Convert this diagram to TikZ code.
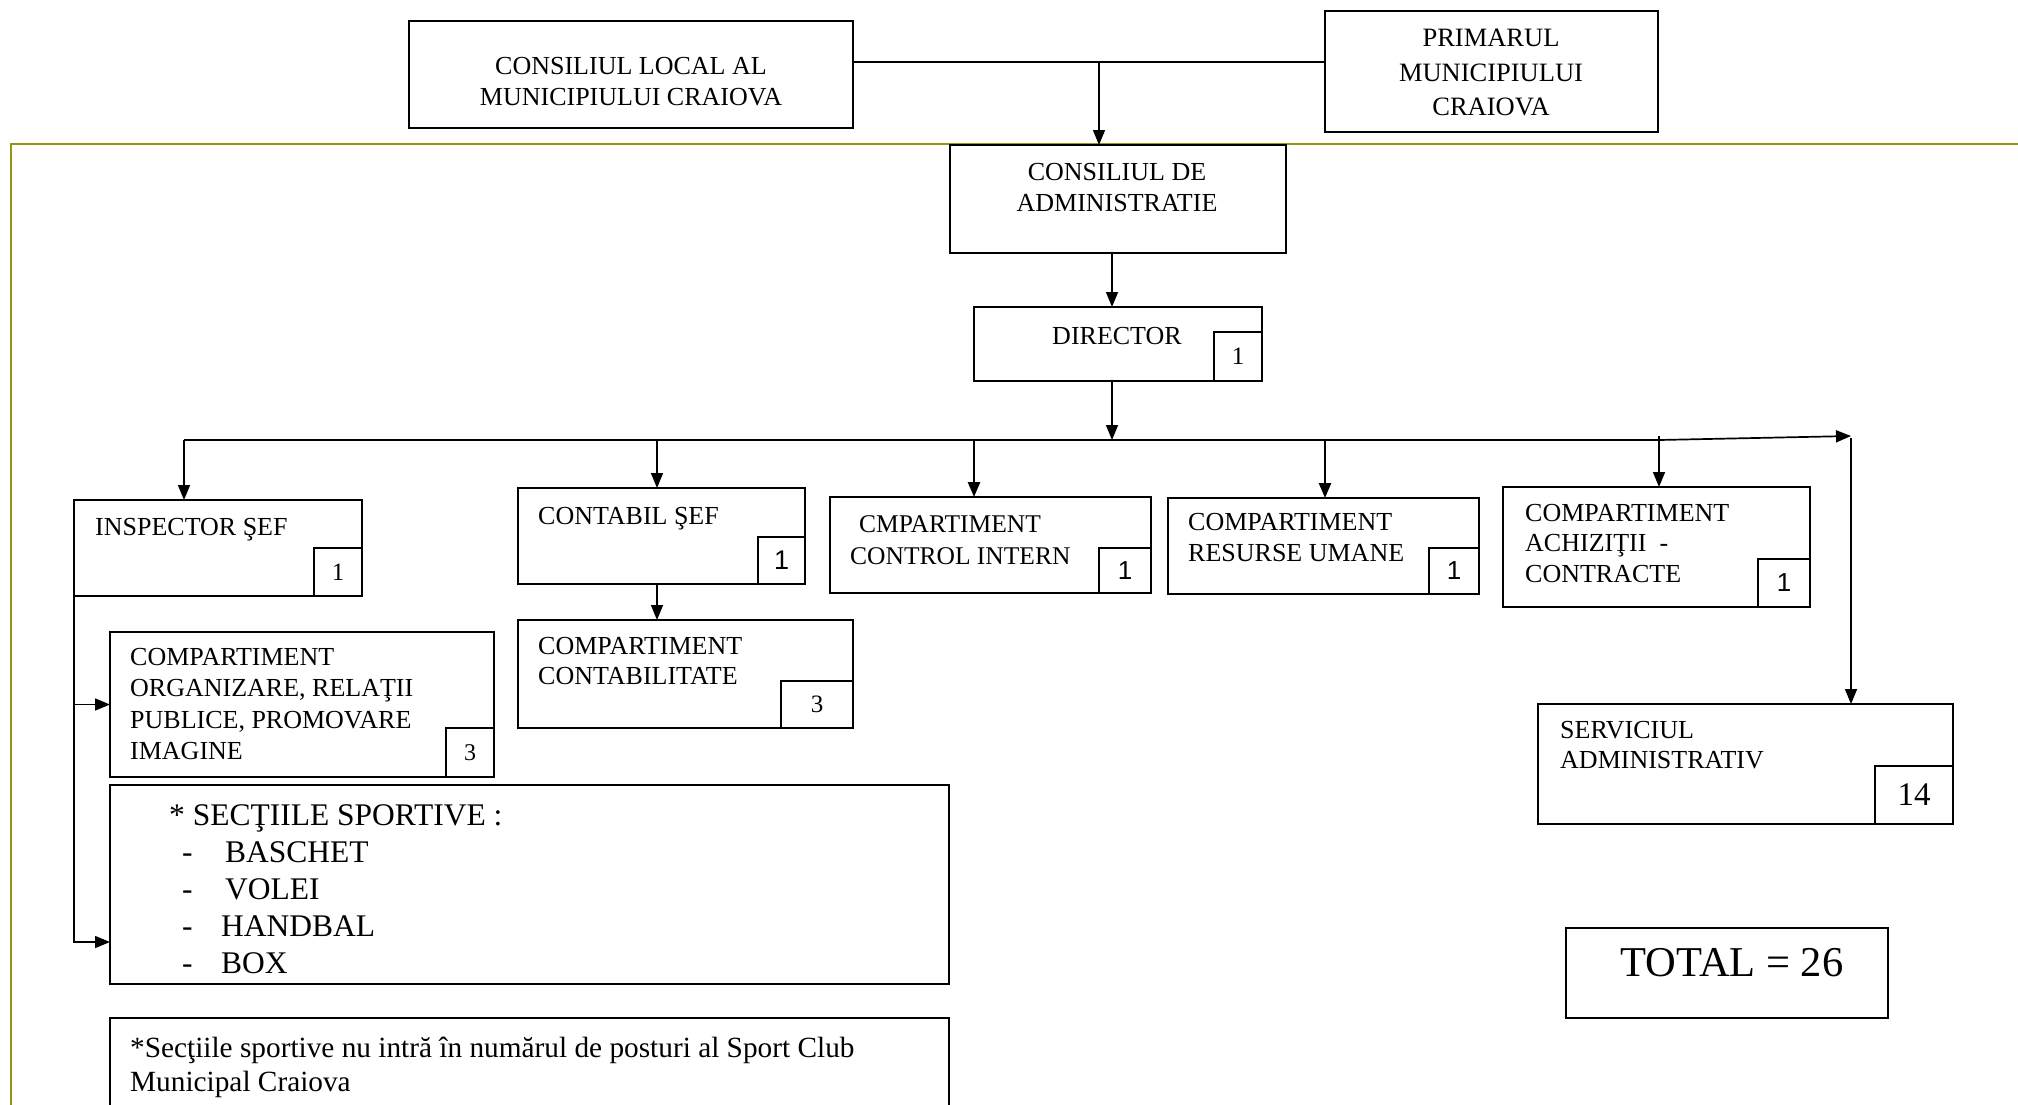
\documentclass[tikz,border=0pt]{standalone}
\usepackage{fontspec}
\setmainfont{Liberation Serif}
\newfontfamily\numsans{Liberation Sans}
\usetikzlibrary{arrows.meta}
\newcommand\myfs[2]{\fontsize{#1pt}{#2pt}\selectfont}
\definecolor{frameolive}{RGB}{150,150,20}
\begin{document}
\begin{tikzpicture}[x=1pt,y=-1pt,
  box/.style={draw, line width=2pt, anchor=north west, inner sep=0pt, outer sep=0pt},
  numbox/.style={draw, line width=1.8pt, anchor=south east, inner sep=0pt, outer sep=0pt, font=\myfs{25}{28}},
  lbl/.style={anchor=north west, inner sep=0pt, align=left, font=\myfs{26}{31}},
  clbl/.style={anchor=north, inner sep=0pt, align=center, font=\myfs{26}{31}},
  conn/.style={line width=1.5pt},
  arr/.style={line width=1.5pt, -{Triangle[length=15pt,width=12pt]}},
  thickarr/.style={line width=2.6pt, -{Triangle[length=15pt,width=12pt]}},
]
\clip (0,0) rectangle (2018,1104);
\fill[white] (0,0) rectangle (2018,1104);
% olive frame
\draw[frameolive, line width=2pt] (2030,144) -- (11,144) -- (11,1130);

% boxes
\node[box, minimum width=444, minimum height=107] (cl) at (409,21) {};
\node[box, minimum width=333, minimum height=121] (pr) at (1325,11) {};
\node[box, fill=white, minimum width=336, minimum height=108] (ca) at (950,145) {};
\node[box, minimum width=288, minimum height=74] (dir) at (974,307) {};
\node[box, minimum width=288, minimum height=96] (insp) at (74,500) {};
\node[box, minimum width=287, minimum height=96] (cs) at (518,488) {};
\node[box, minimum width=335, minimum height=108] (cc) at (518,620) {};
\node[box, minimum width=321, minimum height=96] (ci) at (830,497) {};
\node[box, minimum width=311, minimum height=96] (ru) at (1168,498) {};
\node[box, minimum width=307, minimum height=120] (ach) at (1503,487) {};
\node[box, minimum width=384, minimum height=145] (org) at (110,632) {};
\node[box, minimum width=839, minimum height=199] (sect) at (110,785) {};
\node[box, minimum width=839, minimum height=140] (foot) at (110,1018) {};
\node[box, minimum width=415, minimum height=120] (serv) at (1538,704) {};
\node[box, minimum width=322, minimum height=90] (tot) at (1566,928) {};

% number boxes
\node[numbox, minimum width=48, minimum height=49] (dirn) at (dir.south east) {1};
\node[numbox, minimum width=48, minimum height=48] (inspn) at (insp.south east) {1};
\node[numbox, minimum width=47, minimum height=47, font=\numsans\myfs{27}{30}] (csn) at (cs.south east) {1};
\node[numbox, minimum width=72, minimum height=47] (ccn) at (cc.south east) {3};
\node[numbox, minimum width=52, minimum height=45, font=\numsans\myfs{26}{30}] (cin) at (ci.south east) {1};
\node[numbox, minimum width=50, minimum height=46, font=\numsans\myfs{26}{30}] (run) at (ru.south east) {1};
\node[numbox, minimum width=52, minimum height=48, font=\numsans\myfs{26}{30}] (achn) at (ach.south east) {1};
\node[numbox, minimum width=48, minimum height=49, font=\myfs{24}{28}] (orgn) at (org.south east) {3};
\node[numbox, minimum width=78, minimum height=58, font=\myfs{33}{36}] (servn) at (serv.south east) {14};

% labels
\node[clbl] (clt) at (631,57) {CONSILIUL LOCAL AL\\MUNICIPIULUI CRAIOVA};
\node[clbl, font=\myfs{26.5}{34.5}] (prt) at (1491,29) {PRIMARUL\\MUNICIPIULUI\\CRAIOVA};
\node[clbl] (cat) at (1117,163) {CONSILIUL DE\\ADMINISTRATIE};
\node[clbl] (dirt) at (1117,327) {DIRECTOR};
\node[lbl] (inspt) at (95,518) {INSPECTOR ŞEF};
\node[lbl] (cst) at (538,507) {CONTABIL ŞEF};
\node[lbl, font=\myfs{26}{30}] (cct) at (538,637) {COMPARTIMENT\\CONTABILITATE};
\node[lbl, font=\myfs{25.5}{32}] (cit) at (850,515) {\hspace*{9pt}CMPARTIMENT\\CONTROL INTERN};
\node[lbl] (rut) at (1188,513) {COMPARTIMENT\\RESURSE UMANE};
\node[lbl, font=\myfs{26}{30.5}] (acht) at (1525,504) {COMPARTIMENT\\ACHIZIŢII\ \ -\\CONTRACTE};
\node[lbl, font=\myfs{26}{30}] (servt) at (1560,721) {SERVICIUL\\ADMINISTRATIV};
\node[lbl, font=\myfs{26}{31.3}] (orgt) at (130,648) {COMPARTIMENT\\ORGANIZARE, RELAŢII\\PUBLICE, PROMOVARE\\IMAGINE};
\node[lbl, font=\myfs{31.5}{37}] (sectt) at (169,804) {* SECŢIILE SPORTIVE :\\
  \hspace*{13pt}\makebox[43pt][l]{-}BASCHET\\
  \hspace*{13pt}\makebox[43pt][l]{-}VOLEI\\
  \hspace*{13pt}\makebox[39pt][l]{-}HANDBAL\\
  \hspace*{13pt}\makebox[39pt][l]{-}BOX};
\node[lbl, font=\myfs{29.3}{34}] (foott) at (130,1037) {*Secţiile sportive nu intră în numărul de posturi al Sport Club\\Municipal Craiova};
\node[clbl, font=\myfs{42.5}{46}] (tott) at (1732,948) {TOTAL = 26};

% connectors
\coordinate (jtop) at (1099,62);
\coordinate (spine) at (1112,0);
\coordinate (bus) at (184,440);
\coordinate (b2) at (657,440);
\coordinate (b3) at (974,440);
\coordinate (b4) at (1325,440);
\coordinate (busA) at (1659,440);
\coordinate (achTop) at (1659,436);
\coordinate (busE) at (1851,436);
\coordinate (servTop) at (1851,438);
\coordinate (sectIn) at (110,942);

\draw[conn] (cl.east |- jtop) -- (pr.west |- jtop);
\draw[arr] (jtop) -- (jtop |- ca.north);
\draw[arr] (ca.south -| spine) -- (dir.north -| spine);
\draw[arr] (dir.south -| spine) -- (spine |- bus);
\draw[arr, line width=1.7pt] (bus) -- (busA) -- (busE);
\draw[arr] (bus) -- (bus |- insp.north);
\draw[arr] (b2) -- (b2 |- cs.north);
\draw[thickarr] (b3) -- (b3 |- ci.north);
\draw[thickarr] (b4) -- (b4 |- ru.north);
\draw[arr] (achTop) -- (achTop |- ach.north);
\draw[arr] (servTop) -- (servTop |- serv.north);
\draw[arr] (cs.south -| b2) -- (cc.north -| b2);
\draw[arr] (insp.south west) -- (insp.south west |- sectIn) -- (sectIn);
\draw[arr] (insp.south west |- org.west) -- (org.west);
\end{tikzpicture}
\end{document}
